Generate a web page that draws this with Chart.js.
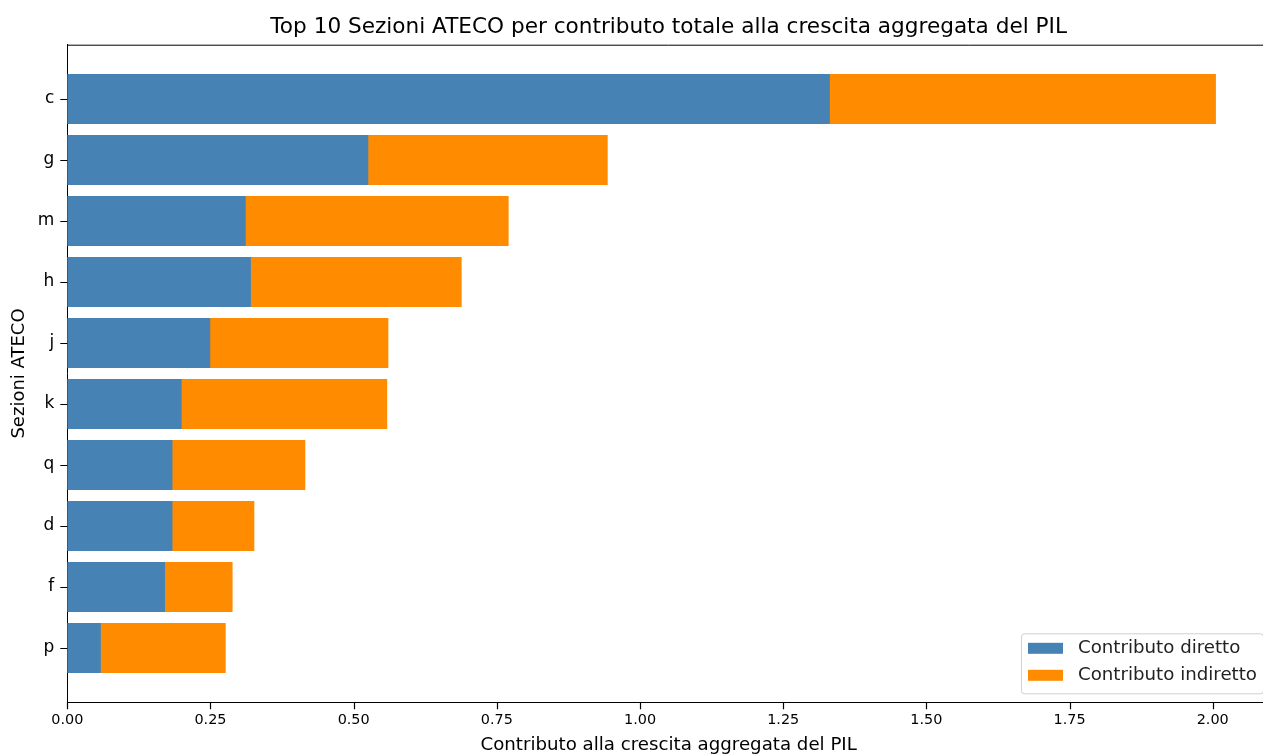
<!DOCTYPE html>
<html>
<head>
<meta charset="utf-8">
<script src="https://cdn.jsdelivr.net/npm/chart.js@4"></script>
<style>
  html, body { margin: 0; padding: 0; background: #fff; overflow: hidden; }
  #wrap { width: 1280px; height: 756px; }
</style>
</head>
<body>
<div id="wrap"><canvas id="barChart"></canvas></div>
<script>
// Sezioni ATECO, top to bottom
const sections = ['c', 'g', 'm', 'h', 'j', 'k', 'q', 'd', 'f', 'p'];
const direct = [1.331, 0.525, 0.311, 0.320, 0.249, 0.199, 0.183, 0.183, 0.170, 0.058];
const indirect = [0.674, 0.418, 0.459, 0.368, 0.311, 0.359, 0.232, 0.143, 0.118, 0.218];
const xTicks = [0, 0.25, 0.5, 0.75, 1.0, 1.25, 1.5, 1.75, 2.0];

const FONT = "'DejaVu Sans', sans-serif";
const TITLE = 'Top 10 Sezioni ATECO per contributo totale alla crescita aggregata del PIL';

// title over the plot area, spines on top/right, tick marks
const framePlugin = {
    id: 'frame',
    afterDraw(chart) {
        const { ctx, chartArea: a, scales } = chart;
        ctx.save();
        ctx.strokeStyle = '#000';
        ctx.lineWidth = 1;
        ctx.beginPath();
        ctx.moveTo(a.left, a.top + 0.5);
        ctx.lineTo(a.right, a.top + 0.5);
        ctx.lineTo(a.right, a.bottom);
        ctx.stroke();

        ctx.lineWidth = 1.2;
        ctx.beginPath();
        scales.x.ticks.forEach(t => {
            const px = Math.round(scales.x.getPixelForValue(t.value)) + 0.5;
            ctx.moveTo(px, a.bottom);
            ctx.lineTo(px, a.bottom + 7);
        });
        scales.y.ticks.forEach(t => {
            const py = Math.round(scales.y.getPixelForValue(t.value)) + 0.5;
            ctx.moveTo(a.left, py);
            ctx.lineTo(a.left - 7, py);
        });
        ctx.stroke();

        ctx.fillStyle = '#000';
        ctx.font = '21.6px ' + FONT;
        ctx.textAlign = 'center';
        ctx.textBaseline = 'middle';
        ctx.fillText(TITLE, (a.left + a.right) / 2, 27);
        ctx.restore();
    }
};

// matplotlib-like legend in the lower right corner
const legendPlugin = {
    id: 'boxLegend',
    afterDraw(chart) {
        const { ctx, chartArea: a } = chart;
        const w = 242, h = 60;
        const x = a.right - 7 - w, y = a.bottom - 9 - h;
        ctx.save();
        ctx.fillStyle = 'rgba(255,255,255,0.8)';
        ctx.strokeStyle = '#d0d0d0';
        ctx.lineWidth = 1;
        ctx.beginPath();
        ctx.roundRect(x + 0.5, y + 0.5, w, h, 3);
        ctx.fill();
        ctx.stroke();
        ctx.font = '18.2px ' + FONT;
        ctx.textBaseline = 'middle';
        chart.data.datasets.forEach((ds, i) => {
            const ry = y + 15 + i * 27;
            ctx.fillStyle = ds.backgroundColor;
            ctx.fillRect(x + 7, ry - 5.5, 35, 11);
            ctx.fillStyle = '#222';
            ctx.fillText(ds.label, x + 57, ry);
        });
        ctx.restore();
    }
};

const ctx = document.getElementById('barChart').getContext('2d');
const chart = new Chart(ctx, {
    type: 'bar',
    data: {
        datasets: [{
            label: 'Contributo diretto',
            data: direct.map((v, i) => ({ x: v, y: i })),
            backgroundColor: '#4682B4',
            barThickness: 49.5
        }, {
            label: 'Contributo indiretto',
            data: indirect.map((v, i) => ({ x: v, y: i })),
            backgroundColor: '#FF8C00',
            barThickness: 49.5
        }]
    },
    options: {
        indexAxis: 'y',
        responsive: true,
        maintainAspectRatio: false,
        animation: false,
        layout: { padding: { left: 0, right: 10, top: 44.7, bottom: 0 } },
        plugins: {
            legend: { display: false },
            tooltip: { enabled: false },
            title: { display: false }
        },
        scales: {
            x: {
                type: 'linear',
                stacked: true,
                min: 0,
                max: 2.1,
                afterBuildTicks: s => { s.ticks = xTicks.map(v => ({ value: v })); },
                afterFit: s => { s.height = 53.7; },
                grid: { display: false },
                border: { color: '#000', width: 1 },
                ticks: {
                    color: '#000',
                    padding: 1,
                    maxRotation: 0,
                    font: { family: FONT, size: 14.4 },
                    callback: v => v.toFixed(2)
                },
                title: {
                    display: true,
                    text: 'Contributo alla crescita aggregata del PIL',
                    color: '#000',
                    font: { family: FONT, size: 18.2 },
                    padding: { top: 0, bottom: 0 }
                }
            },
            y: {
                type: 'linear',
                stacked: true,
                reverse: true,
                offset: false,
                min: -0.89,
                max: 9.89,
                afterBuildTicks: s => { s.ticks = sections.map((_, i) => ({ value: i })); },
                afterFit: s => { s.width = 67.3; },
                grid: { display: false },
                border: { color: '#000', width: 1 },
                ticks: {
                    color: '#000',
                    padding: 5,
                    font: { family: FONT, size: 17 },
                    callback: v => sections[v]
                },
                title: {
                    display: true,
                    text: 'Sezioni ATECO',
                    color: '#000',
                    font: { family: FONT, size: 18 },
                    padding: { top: 9, bottom: 4 }
                }
            }
        }
    },
    plugins: [framePlugin, legendPlugin]
});
</script>
</body>
</html>
